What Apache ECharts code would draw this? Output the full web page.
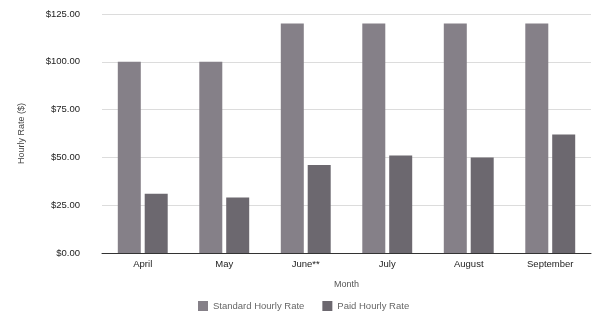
<!DOCTYPE html>
<html>
<head>
<meta charset="utf-8">
<script src="https://cdn.jsdelivr.net/npm/echarts@6/dist/echarts.min.js"></script>
<style>
  html, body { margin: 0; padding: 0; background: #fff; }
  #chart { width: 605px; height: 328px; }
</style>
</head>
<body>
<div id="chart"></div>
<script>
// data
const months = ['April', 'May', 'June**', 'July', 'August', 'September']
const standardRate = [100, 100, 120, 120, 120, 120]
const paidRate = [31, 29, 46, 51, 50, 62]
const seriesNames = ['Standard Hourly Rate', 'Paid Hourly Rate']

const chart = echarts.init(document.getElementById('chart'))

chart.setOption({
  animation: false,
  color: ['#858088', '#6c686f'],
  textStyle: { fontFamily: 'Liberation Sans, Arial, sans-serif' },
  grid: { left: 102, right: 14, top: 14, bottom: 75 },
  legend: {
    bottom: 12,
    left: 193,
    itemWidth: 10,
    itemHeight: 10,
    itemGap: 18,
    icon: 'rect',
    textStyle: { fontSize: 9.5, color: '#666' },
    data: seriesNames
  },
  xAxis: {
    type: 'category',
    data: months,
    name: 'Month',
    nameLocation: 'middle',
    nameGap: 27,
    nameTextStyle: { fontSize: 9, color: '#555' },
    axisLine: { lineStyle: { color: '#333', width: 1 } },
    axisTick: { show: false },
    axisLabel: { fontSize: 9.5, color: '#222', margin: 6 }
  },
  yAxis: {
    type: 'value',
    min: 0,
    max: 125,
    interval: 25,
    name: 'Hourly Rate ($)',
    nameLocation: 'middle',
    nameGap: 76,
    nameTextStyle: { fontSize: 9, color: '#444' },
    axisLine: { show: false },
    axisTick: { show: false },
    axisLabel: {
      fontSize: 9.5,
      color: '#222',
      margin: 22,
      formatter: v => '$' + v.toFixed(2)
    },
    splitLine: { lineStyle: { color: '#dcdcdc' } }
  },
  series: [
    {
      name: seriesNames[0],
      type: 'bar',
      data: standardRate,
      barWidth: 23,
      barGap: '17%'
    },
    {
      name: seriesNames[1],
      type: 'bar',
      data: paidRate,
      barWidth: 23,
      barGap: '17%'
    }
  ]
})
</script>
</body>
</html>
